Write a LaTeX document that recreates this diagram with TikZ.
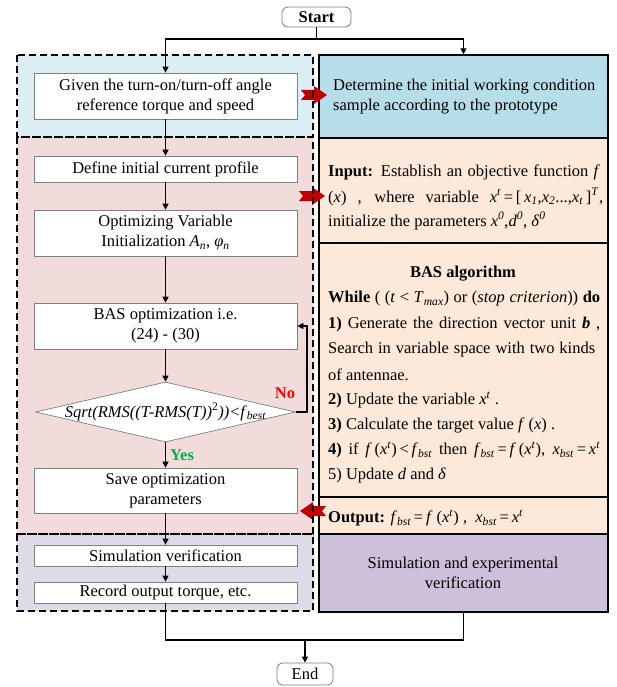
\documentclass[tikz,border=0pt]{standalone}
\usepackage{fontspec}
\setmainfont{Liberation Serif}
\usetikzlibrary{arrows.meta,shapes.geometric}
\definecolor{blueL}{HTML}{DAEEF3}
\definecolor{blueR}{HTML}{B7DEE8}
\definecolor{pinkL}{HTML}{F2DCDB}
\definecolor{peachR}{HTML}{FDE9D9}
\definecolor{purpL}{HTML}{DEDAE7}
\definecolor{purpR}{HTML}{CCC0DA}
\definecolor{arrred}{HTML}{C00000}
\definecolor{yesgreen}{HTML}{00B050}
\definecolor{boxgray}{HTML}{7F7F7F}
\newcommand{\fsz}{\fontsize{16.5}{20}\selectfont}
\newcommand{\iv}[1]{\textit{#1}}
\newcommand{\isub}[1]{\textsubscript{\textit{#1}}}
\newcommand{\isup}[1]{\textsuperscript{\textit{#1}}}
\tikzset{
  wbox/.style={draw=boxgray, fill=white, line width=0.7pt, minimum width=263pt, inner sep=0pt, align=center, font=\fsz},
  rbox/.style={draw=black, line width=1.2pt, minimum width=289pt, inner sep=0pt},
  region/.style={draw=black, line width=1.6pt, dash pattern=on 7pt off 4pt},
  conn/.style={line width=1.2pt, draw=black},
  arr/.style={conn, -{Triangle[length=6pt,width=6pt]}},
  rtext/.style={anchor=west, inner sep=0pt, font=\fsz},
  term/.style={draw=boxgray, fill=white, rounded corners=6pt, line width=0.8pt, inner sep=0pt, font=\fsz},
  blockarr/.style={fill=arrred, draw=none},
}
\begin{document}
\begin{tikzpicture}[x=1pt,y=-1pt]
\useasboundingbox (0,0) rectangle (616,687);
\fill[white] (0,0) rectangle (616,687);
% left regions fills
\fill[blueL] (17,55) rectangle (313,137);
\fill[pinkL] (17,137) rectangle (313,534);
\fill[purpL] (17,534) rectangle (313,611);
% right boxes
\node[rbox, fill=blueR, minimum height=83pt] (rb1) at (463.5,96.5) {};
\node[rbox, fill=peachR, minimum height=105pt] (rb2) at (463.5,190.5) {};
\node[rbox, fill=peachR, minimum height=254pt] (rb3) at (463.5,370) {};
\node[rbox, fill=peachR, minimum height=37pt] (rb4) at (463.5,515.5) {};
\node[rbox, fill=purpR, minimum height=78pt] (rb5) at (463.5,573) {};
% red block arrows
\fill[blockarr] (327,95) -- ++(-13,-9) -- ++(0,4) -- ++(-13,0) -- ++(4,5) -- ++(-4,5) -- ++(13,0) -- ++(0,4) -- cycle;
\fill[blockarr] (325,196) -- ++(-13,-9) -- ++(0,4) -- ++(-13,0) -- ++(4,5) -- ++(-4,5) -- ++(13,0) -- ++(0,4) -- cycle;
\fill[blockarr] (300,511) -- ++(13,-9) -- ++(0,4) -- ++(13,0) -- ++(-4,5) -- ++(4,5) -- ++(-13,0) -- ++(0,4) -- cycle;
% dashed regions
\draw[region] (17,55) rectangle (313,137);
\draw[region] (17,137) rectangle (313,534);
\draw[region] (17,534) rectangle (313,611);
% terminals
\node[term, minimum width=69pt, minimum height=20pt] (start) at (316.5,17) {\textbf{Start}};
\node[term, minimum width=56pt, minimum height=22pt] (end) at (305,674) {End};
% left boxes
\node[wbox, minimum height=46pt] (given) at (165.5,96) {Given the turn-on/turn-off angle\\reference torque and speed};
\node[wbox, minimum height=26pt] (define) at (165.5,169) {Define initial current profile};
\node[wbox, minimum height=46pt] (optvar) at (165.5,233) {Optimizing Variable\\Initialization \iv{A}\isub{n}, \iv{φ}\isub{n}};
\node[wbox, minimum height=46pt] (basopt) at (165.5,326) {BAS optimization i.e.\\(24) - (30)};
\node[diamond, draw=boxgray, fill=white, line width=0.7pt, minimum width=260pt, minimum height=60pt, inner sep=0pt, font=\fsz] (dec) at (165.5,412) {\makebox[0pt]{\iv{Sqrt(RMS((T-RMS(T))}\textsuperscript{2}\iv{))<f}\isub{best}}};
\node[wbox, minimum height=45pt] (save) at (165.5,490.5) {Save optimization\\parameters};
\node[wbox, minimum height=21pt] (sim) at (165.5,555.5) {Simulation verification};
\node[wbox, minimum height=21pt] (rec) at (165.5,592.5) {Record output torque, etc.};
% labels
\node[font=\fsz\bfseries, text=red, inner sep=0pt] (nolab) at (285,393) {No};
\node[font=\fsz\bfseries, text=yesgreen, inner sep=0pt] (yeslab) at (182,455) {Yes};
% right texts
\node[rtext] (t1a) at (333,87) {Determine the initial working condition};
\node[rtext] (t1b) at (333,107) {sample according to the prototype};
\node[rtext] (t2a) at (328,172) {\makebox[272pt][s]{\textbf{Input:} Establish an objective function \iv{f}}};
\node[rtext] (t2b) at (328,197) {\makebox[275pt][s]{(\iv{x}) , where variable \iv{x}\isup{t}\,=\,[\,\iv{x}\isub{1},\iv{x}\isub{2}...,\iv{x}\isub{t}\,]\isup{T},}};
\node[rtext] (t2c) at (328,221) {initialize the parameters \iv{x}\isup{0},\iv{d}\isup{0}, \iv{δ}\isup{0}};
\node[inner sep=0pt, font=\fsz\bfseries] (t3h) at (463,274) {BAS algorithm};
\node[rtext] (t3a) at (328,299) {\makebox[272pt][s]{\textbf{While} ( (\iv{t} < \iv{T}\isub{max}) or (\iv{stop criterion})) \textbf{do}}};
\node[rtext] (t3b) at (328,325) {\makebox[272pt][s]{\textbf{1)} Generate the direction vector unit \textbf{\iv{b}} ,}};
\node[rtext] (t3c) at (328,350) {\makebox[267pt][s]{Search in variable space with two kinds}};
\node[rtext] (t3d) at (328,375) {of antennae.};
\node[rtext] (t3e) at (328,400) {\textbf{2)} Update the variable \iv{x}\isup{t} .};
\node[rtext] (t3f) at (328,425) {\textbf{3)} Calculate the target value \iv{f} (\iv{x}) .};
\node[rtext] (t3g) at (328,450) {\makebox[272pt][s]{\textbf{4)} if \iv{f}\,(\iv{x}\isup{t})\,<\,\iv{f}\isub{bst} then \iv{f}\isub{bst}\,=\,\iv{f}\,(\iv{x}\isup{t}), \iv{x}\isub{bst}\,=\,\iv{x}\isup{t}}};
\node[rtext] (t3h2) at (328,475) {5) Update \iv{d} and \iv{δ}};
\node[rtext] (t4) at (328,518) {\textbf{Output:} \iv{f}\isub{bst}\,=\,\iv{f} (\iv{x}\isup{t}) ,\ \ \iv{x}\isub{bst}\,=\,\iv{x}\isup{t}};
\node[inner sep=0pt, font=\fsz, align=center] (t5) at (463,573) {Simulation and experimental\\verification};
% connectors
\coordinate (split) at (316.5,39);
\draw[conn] (start.south) -- (split);
\draw[arr] (split) -| (given.north);
\draw[arr] (split) -| (rb1.north);
\draw[arr] (given.south) -- (define.north);
\draw[arr] (define.south) -- (optvar.north);
\draw[arr] (optvar.south) -- (basopt.north);
\draw[arr] (basopt.south) -- (dec.north);
\draw[arr] (dec.south) -- (save.north);
\draw[arr] (dec.east) -- (307,412) |- (basopt.east);
\draw[arr] (save.south) -- (sim.north);
\draw[arr] (sim.south) -- (rec.north);
\coordinate (join) at (305,640);
\draw[conn] (rec.south) |- (join);
\draw[conn] (rb5.south) |- (join);
\draw[arr] (join) -- (end.north);
\end{tikzpicture}
\end{document}
